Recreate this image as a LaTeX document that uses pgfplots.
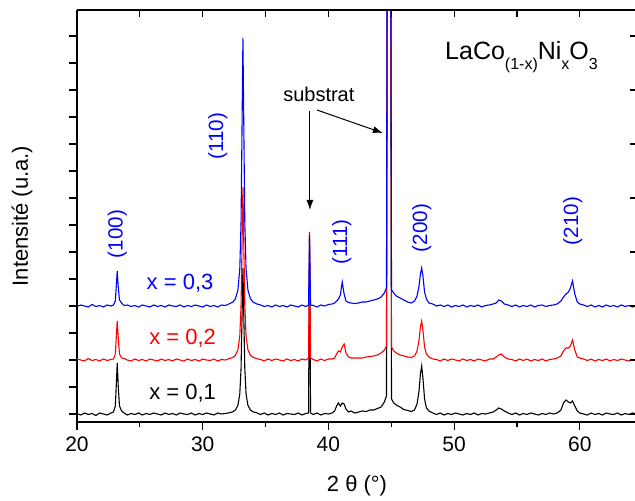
\documentclass[border=0pt]{standalone}
\usepackage{pgfplots}
\pgfplotsset{compat=1.18}
\usepackage{pgfplotstable}
\usepackage{fontspec}
\setmainfont{Liberation Sans}
\usetikzlibrary{arrows.meta}

\pgfplotstableread{
x k r b
20.0 0.5 1.0 -0.5
20.3 -1.0 0.0 1.0
20.6 1.0 -1.0 0.0
20.9 -0.5 1.5 -1.0
21.2 0.5 -0.5 1.5
21.5 -1.5 0.5 -0.5
21.8 1.0 -1.0 0.5
22.1 0.0 1.0 -1.0
22.4 -1.0 -0.5 1.0
22.7 1.0 0.5 0.0
22.9 2 1 1
23.05 8 6 5
23.13 30 24 21
23.2 51 39 35
23.28 28 22 19
23.38 8 6 6
23.55 3 2 3
23.75 1 1.5 0.5
24.0 -1.0 0.0 1.0
24.3 0.5 -1.0 -0.5
24.6 -0.5 1.0 0.5
24.9 1.0 -0.5 -1.0
25.2 -1.0 0.5 1.0
25.5 0.5 -1.0 0.0
25.8 -0.5 1.0 -1.0
26.1 1.0 0.0 1.0
26.4 0.0 -1.0 -0.5
26.7 -1.0 1.0 0.5
27.0 1.0 -0.5 -1.0
27.3 -0.5 0.5 1.0
27.6 0.5 -1.0 0.0
27.9 -1.0 1.0 -0.5
28.2 1.0 0.0 1.0
28.5 0.0 -1.0 -1.0
28.8 -0.5 1.0 0.5
29.1 1.0 -0.5 -0.5
29.4 -1.0 0.5 1.0
29.7 0.5 -1.0 0.0
30.0 -0.5 1.0 -1.0
30.3 1.0 0.0 1.0
30.6 0.0 -0.5 -0.5
30.9 -1.0 1.0 0.5
31.2 1.0 -1.0 -1.0
31.5 0.0 0.5 1.0
31.8 0.5 0.0 0.5
32.1 1.2 1.4 2.1
32.4 2.2 2.6 4
32.6 4 4.7 7.2
32.8 8.6 10 15.8
32.95 20 24 37
33.05 45 54 83
33.13 98 116 180
33.2 146 173 268
33.27 98 116 180
33.35 45 54 83
33.45 20 24 37
33.6 8.6 10 15.8
33.8 4 4.7 7.2
34.0 2.2 2.6 4
34.3 1.2 1.4 2.1
34.6 -0.5 0.5 1.0
34.9 1.0 -1.0 -0.5
35.2 -1.0 1.0 0.5
35.5 0.5 -0.5 -1.0
35.8 -0.5 1.0 1.0
36.1 1.0 0.0 -0.5
36.4 -1.0 -1.0 0.5
36.7 0.5 1.0 -1.0
37.0 0.0 -0.5 1.0
37.3 -0.5 0.5 0.0
37.6 1.0 -1.0 -1.0
37.9 -1.0 1.0 1.0
38.2 0.5 0.0 -0.5
38.42 1 2 1
38.5 175 128 71
38.58 1 2 1
38.8 -0.5 0.5 0.5
39.1 1.0 -1.0 -1.0
39.4 -1.0 1.0 1.0
39.7 0.5 -0.5 0.0
40.0 0.0 1.0 1.5
40.3 1 1 2
40.5 3 2 3
40.65 8 6 5
40.8 11 9 7
40.95 8 8 11
41.1 11 13 24
41.25 10 16 12
41.4 5 7 5
41.6 2 3 3.5
41.8 3 2 3
42.1 1 2 2.5
42.4 2 2 3
42.7 3 2 4
43.0 2.5 3 4
43.3 4 3.5 5
43.6 4 4 6
43.9 5.5 5 7
44.2 7 7 9
44.45 12 10 13
44.62 18 14 18
44.72 700 700 700
44.92 700 700 700
45.02 15 13 16
45.2 11 9 13
45.4 9 7 10
45.7 7 5 8
46.0 4.5 4 6
46.3 3.5 3 4
46.6 2.5 2.5 3
46.85 4 4 5
47.05 10 9 10
47.2 22 19 19
47.32 40 33 32
47.42 48 39 38
47.52 36 30 30
47.65 15 13 14
47.8 6 6 7
48.0 3 3 3
48.3 1 1 2
48.6 -0.5 0.5 0.0
48.9 1.0 -1.0 1.0
49.2 -1.0 1.0 -0.5
49.5 0.5 -0.5 1.0
49.8 -0.5 1.0 -1.0
50.1 1.0 0.0 0.5
50.4 0.0 -1.0 -0.5
50.7 -1.0 1.0 1.0
51.0 0.5 -0.5 -1.0
51.3 -0.5 0.5 0.5
51.6 1.0 -1.0 -0.5
51.9 -1.0 1.0 1.0
52.2 0.5 0.0 -1.0
52.5 0.0 -1.0 0.5
52.8 1.0 1.0 1.0
53.1 2 1 2
53.35 4 3 3
53.55 6 5 6
53.75 5 6 5
54.0 3 3 2
54.3 1 1 1
54.6 -0.5 0.5 -0.5
54.9 1.0 -1.0 1.0
55.2 -1.0 1.0 -1.0
55.5 0.5 -0.5 0.5
55.8 -0.5 1.0 -0.5
56.1 1.0 -1.0 1.0
56.4 0.0 0.5 -1.0
56.7 -1.0 -0.5 0.5
57.0 0.5 1.0 1.0
57.3 -0.5 -1.0 -0.5
57.6 1.0 0.5 0.5
57.9 0.0 1.0 1.0
58.2 1 2 2
58.5 4 4 5
58.7 11 9 9
58.9 14 12 12
59.1 12 12 14
59.25 11 14 18
59.42 13 20 25
59.6 8 10 12
59.8 3 3 4
60.0 1 2 2
60.3 0 1 1
60.6 -1.0 -0.5 -0.5
60.9 1.0 1.0 1.0
61.2 -0.5 -1.0 -1.0
61.5 0.5 0.5 0.5
61.8 -1.0 -0.5 -1.0
62.1 1.0 1.0 1.0
62.4 0.0 -1.0 -0.5
62.7 -0.5 0.5 0.5
63.0 1.0 -0.5 -1.0
63.3 -1.0 1.0 1.0
63.6 0.5 0.0 -0.5
63.9 -0.5 -1.0 0.5
64.2 1.0 0.5 -1.0
64.5 0.0 -0.5 0.5
}\xrd

\pgfplotsset{
  xrdbase/.style={
    scale only axis, width=280bp, height=206bp,
    at={(0,0)}, anchor=south west,
    xmin=20, xmax=64.55, ymin=0, ymax=412,
    axis line style={line width=0.6bp},
    every tick/.style={line width=0.6bp, black},
    /pgf/number format/assume math mode=true,
    tick label style={font=\fontsize{10.5bp}{12bp}\selectfont},
  }
}

\begin{document}
\begin{tikzpicture}
\path[use as bounding box] (-38.5bp,-39.5bp) rectangle (279bp,211bp);
\begin{axis}[xrdbase,
  axis x line*=bottom, axis y line*=left,
  tick align=outside,
  xtick={20,30,40,50,60}, minor xtick={25,35,45,55},
  ytick={8,35,62,89,116,143,170,197,224,251,278,305,332,359,386},
  yticklabels={},
  major tick length=4bp, minor tick length=2.5bp,
  xlabel={2 θ (°)}, ylabel={Intensité (u.a.)},
  every axis x label/.style={at={(axis description cs:0.5,0)}, yshift=-32bp, anchor=center, font=\fontsize{11bp}{13bp}\selectfont},
  every axis y label/.style={at={(axis description cs:0,0.5)}, xshift=-27.5bp, rotate=90, anchor=center, font=\fontsize{11bp}{13bp}\selectfont},
]
\addplot[black, line width=0.55bp] table[x=x, y expr=\thisrow{k}+8] {\xrd};
\addplot[red, line width=0.55bp] table[x=x, y expr=\thisrow{r}+62] {\xrd};
\addplot[blue, line width=0.55bp] table[x=x, y expr=\thisrow{b}+116] {\xrd};

\node[rotate=90, text=blue, font=\fontsize{10.3bp}{12bp}\selectfont] at (axis cs:23.2,188) {(100)};
\node[rotate=90, text=blue, font=\fontsize{10.3bp}{12bp}\selectfont] at (axis cs:31.2,286) {(110)};
\node[rotate=90, text=blue, font=\fontsize{10.3bp}{12bp}\selectfont] at (axis cs:41.07,180) {(111)};
\node[rotate=90, text=blue, font=\fontsize{10.3bp}{12bp}\selectfont] at (axis cs:47.43,194) {(200)};
\node[rotate=90, text=blue, font=\fontsize{10.3bp}{12bp}\selectfont] at (axis cs:59.44,201) {(210)};

\node[text=blue, font=\fontsize{11bp}{13bp}\selectfont] at (axis cs:28.2,139) {x = 0,3};
\node[text=red, font=\fontsize{11bp}{13bp}\selectfont] at (axis cs:28.4,84) {x = 0,2};
\node[text=black, font=\fontsize{11bp}{13bp}\selectfont] at (axis cs:28.4,29) {x = 0,1};

\node[font=\fontsize{10bp}{12bp}\selectfont] at (axis cs:39.24,328) {substrat};
\draw[line width=0.5bp, -{Latex[length=5bp, width=3.5bp]}] (axis cs:38.53,311) -- (axis cs:38.53,212);
\draw[line width=0.5bp, -{Latex[length=5bp, width=3.5bp]}] (axis cs:39.09,312) -- (axis cs:44.33,289);

\node[anchor=base west, inner sep=0pt, font=\fontsize{12.5bp}{14bp}\selectfont] at (axis cs:49.26,362)
  {LaCo\raisebox{-5bp}{\fontsize{8bp}{9bp}\selectfont (1-x)}Ni\raisebox{-5bp}{\fontsize{8bp}{9bp}\selectfont x}O\raisebox{-5bp}{\fontsize{8bp}{9bp}\selectfont 3}};
\end{axis}
\begin{axis}[xrdbase,
  axis x line*=top, axis y line*=right,
  tick align=inside,
  xtick={20,30,40,50,60}, minor xtick={25,35,45,55},
  ytick={8,62,116,170,224,278,332,386},
  xticklabels={}, yticklabels={},
  major tick length=3.5bp, minor tick length=3.5bp,
]
\end{axis}
\end{tikzpicture}
\end{document}
